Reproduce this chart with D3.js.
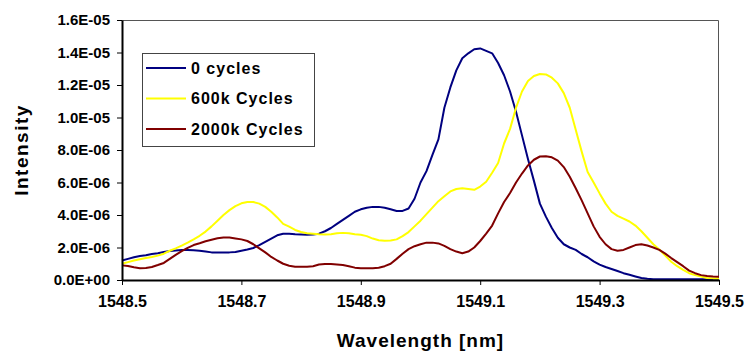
<!DOCTYPE html>
<html>
<head>
<meta charset="utf-8">
<script src="https://cdn.jsdelivr.net/npm/d3@7"></script>
<style>
  body { margin: 0; background: #fff; }
  svg text { font-family: "Liberation Sans", Arial, sans-serif; font-weight: bold; }
</style>
</head>
<body>
<svg id="drawing_region"></svg>
<script>
// wavelength grid 1548.50 .. 1549.50 nm, step 0.01
const wavelength = d3.range(101).map(i => +(1548.5 + i * 0.01).toFixed(2))

// intensities in units of 1e-6
const cycles0 = [
  1.2, 1.3, 1.4, 1.48, 1.52, 1.6, 1.65, 1.72, 1.78, 1.82,
  1.85, 1.85, 1.83, 1.8, 1.75, 1.7, 1.7, 1.7, 1.7, 1.72,
  1.8, 1.88, 1.97, 2.15, 2.35, 2.55, 2.75, 2.85, 2.85, 2.82,
  2.8, 2.78, 2.8, 2.85, 3.0, 3.2, 3.45, 3.7, 3.95, 4.2,
  4.35, 4.45, 4.5, 4.5, 4.45, 4.35, 4.25, 4.25, 4.4, 5.0,
  6.0, 6.7, 7.7, 8.65, 10.6, 11.85, 12.9, 13.65, 13.95, 14.2,
  14.25, 14.1, 13.95, 13.35, 12.6, 11.6, 10.35, 8.9, 7.45, 6.1,
  4.7, 3.9, 3.2, 2.6, 2.2, 2.0, 1.85, 1.6, 1.4, 1.15,
  0.95, 0.8, 0.68, 0.55, 0.42, 0.32, 0.22, 0.12, 0.07, 0.05,
  0.05, 0.05, 0.05, 0.05, 0.05, 0.05, 0.05, 0.05, 0.05, 0.05, 0.05
]
const cycles600k = [
  1.0, 1.1, 1.2, 1.28, 1.35, 1.42, 1.5, 1.62, 1.8, 1.95,
  2.12, 2.3, 2.5, 2.72, 2.98, 3.3, 3.65, 4.0, 4.3, 4.55,
  4.72, 4.8, 4.8, 4.7, 4.5, 4.2, 3.85, 3.45, 3.28, 3.08,
  2.95, 2.88, 2.85, 2.82, 2.8, 2.82, 2.87, 2.9, 2.88, 2.82,
  2.78, 2.7, 2.55, 2.45, 2.42, 2.43, 2.5, 2.7, 2.95, 3.3,
  3.65, 4.05, 4.45, 4.85, 5.15, 5.45, 5.6, 5.65, 5.6, 5.55,
  5.75, 6.05, 6.6, 7.2, 8.4, 9.3, 10.6, 11.6, 12.25, 12.55,
  12.68, 12.65, 12.45, 12.1, 11.5, 10.6, 9.25, 7.9, 6.65, 6.0,
  5.33, 4.7, 4.2, 3.95, 3.78, 3.6, 3.35, 3.0, 2.6, 2.2,
  1.88, 1.5, 1.12, 0.85, 0.62, 0.42, 0.3, 0.22, 0.12, 0.1, 0.1
]
const cycles2000k = [
  0.9, 0.86, 0.78, 0.72, 0.74, 0.8, 0.92, 1.05, 1.3, 1.55,
  1.78, 1.98, 2.15, 2.26, 2.38, 2.48, 2.57, 2.62, 2.62, 2.56,
  2.5, 2.4, 2.2, 1.95, 1.7, 1.42, 1.2, 1.0, 0.88, 0.82,
  0.82, 0.82, 0.85, 0.95, 0.98, 0.98, 0.95, 0.92, 0.85, 0.76,
  0.72, 0.72, 0.72, 0.75, 0.85, 1.0, 1.3, 1.62, 1.9, 2.08,
  2.2, 2.3, 2.3, 2.25, 2.1, 1.9, 1.75, 1.65, 1.75, 2.0,
  2.4, 2.85, 3.35, 4.1, 4.8, 5.35, 6.0, 6.55, 7.05, 7.4,
  7.6, 7.62, 7.55, 7.35, 6.95, 6.35, 5.65, 4.9, 4.1, 3.3,
  2.66, 2.2, 1.9, 1.8, 1.85, 2.0, 2.15, 2.2, 2.12, 2.0,
  1.85, 1.62, 1.35, 1.1, 0.85, 0.58, 0.42, 0.3, 0.25, 0.22, 0.2
]

const seriesNames = ['0 cycles', '600k Cycles', '2000k Cycles']
const seriesColors = ['#000080', '#ffff00', '#800000']

const xTicks = [1548.5, 1548.7, 1548.9, 1549.1, 1549.3, 1549.5]
const yTicks = [0, 2, 4, 6, 8, 10, 12, 14, 16]
const yTickLabels = ['0.0E+00', '2.0E-06', '4.0E-06', '6.0E-06', '8.0E-06',
                     '1.0E-05', '1.2E-05', '1.4E-05', '1.6E-05']

const config = {
  width: 748,
  height: 354,
  margin: {top: 20, right: 29, bottom: 74, left: 122}
}

const svg = d3.select('#drawing_region')
  .attr('width', config.width)
  .attr('height', config.height)

const inner_width = config.width - config.margin.left - config.margin.right
const inner_height = config.height - config.margin.top - config.margin.bottom

const chart = svg.append('g')
  .attr('transform', `translate(${config.margin.left},${config.margin.top})`)

const xscale = d3.scaleLinear().domain([1548.5, 1549.5]).range([0, inner_width])
const yscale = d3.scaleLinear().domain([0, 16]).range([inner_height, 0])

// plot frame (top / right)
chart.append('path')
  .attr('d', `M0,0.5H${inner_width - 0.5}V${inner_height}`)
  .attr('fill', 'none')
  .attr('stroke', '#555')
  .attr('stroke-width', 1)

// lines
const series = [cycles0, cycles600k, cycles2000k]
const line = d3.line()
  .x((d, i) => xscale(wavelength[i]))
  .y(d => yscale(d))

series.forEach((s, k) => {
  chart.append('path')
    .datum(s)
    .attr('fill', 'none')
    .attr('stroke', seriesColors[k])
    .attr('stroke-width', 2)
    .attr('stroke-linejoin', 'round')
    .attr('d', line)
})

// axes
const xaxis = d3.axisBottom(xscale).tickValues(xTicks).tickSize(5).tickSizeOuter(0)
  .tickFormat(d3.format('.1f'))
const yaxis = d3.axisLeft(yscale).tickValues(yTicks).tickSize(5).tickSizeOuter(0)
  .tickFormat((d, i) => yTickLabels[i])

const xg = chart.append('g')
  .attr('transform', `translate(0,${inner_height})`)
  .call(xaxis)
const yg = chart.append('g').call(yaxis)

;[xg, yg].forEach(g => {
  g.select('.domain').attr('stroke', '#000').attr('stroke-width', 2)
  g.selectAll('.tick line').attr('stroke', '#000').attr('stroke-width', 1)
  g.selectAll('.tick text')
    .attr('fill', '#000')
    .style('font-family', '"Liberation Sans", Arial, sans-serif')
    .style('font-weight', 'bold')
})
xg.selectAll('.tick text').attr('font-size', 16).attr('dy', null).attr('y', 27)
yg.selectAll('.tick text').attr('font-size', 15).attr('x', -12)

// axis titles
svg.append('text')
  .attr('x', config.margin.left + inner_width / 2)
  .attr('y', 347)
  .attr('text-anchor', 'middle')
  .attr('font-size', 19)
  .style('letter-spacing', '1px')
  .text('Wavelength [nm]')

svg.append('text')
  .attr('transform', `translate(28,${config.margin.top + inner_height / 2}) rotate(-90)`)
  .attr('text-anchor', 'middle')
  .attr('font-size', 19)
  .style('letter-spacing', '1.5px')
  .text('Intensity')

// legend
const legend = svg.append('g').attr('transform', 'translate(142,53)')
legend.append('rect')
  .attr('x', 0.5).attr('y', 0.5)
  .attr('width', 172).attr('height', 93)
  .attr('fill', '#fff')
  .attr('stroke', '#444')
  .attr('stroke-width', 1)

seriesNames.forEach((name, k) => {
  const yy = 15 + k * 30.5
  legend.append('line')
    .attr('x1', 4).attr('x2', 44)
    .attr('y1', yy).attr('y2', yy)
    .attr('stroke', seriesColors[k])
    .attr('stroke-width', 2)
  legend.append('text')
    .attr('x', 49).attr('y', yy)
    .attr('dy', '0.36em')
    .attr('font-size', 16)
    .style('letter-spacing', '1px')
    .text(name)
})
</script>
</body>
</html>
